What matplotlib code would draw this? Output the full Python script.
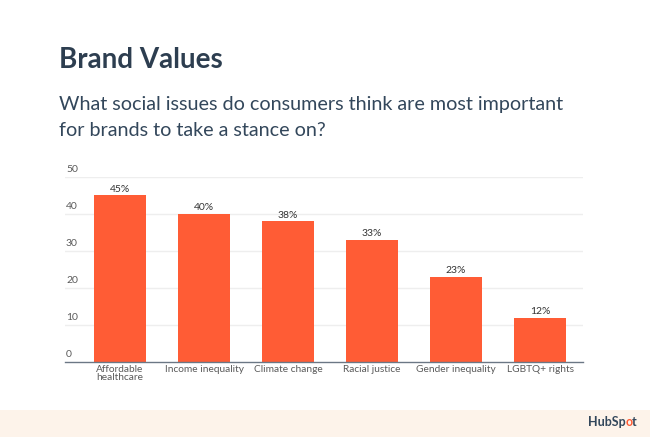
import matplotlib.pyplot as plt
from matplotlib.patches import Rectangle

categorias = ["Affordable\nhealthcare", "Income inequality", "Climate change",
              "Racial justice", "Gender inequality", "LGBTQ+ rights"]
valores = [45, 40, 38, 33, 23, 12]
ticks_y = [0, 10, 20, 30, 40, 50]

naranja = "#ff5c35"
azul = "#2d3e50"
gris = "#5a5a5a"

plt.rcParams['font.family'] = ['Lato', 'DejaVu Sans']

fig = plt.figure(figsize=(6.5, 4.37), dpi=100)
fig.patch.set_facecolor('white')

# franja inferior con el logo
fig.patches.append(Rectangle((0, 0), 1, 27 / 437, transform=fig.transFigure,
                             facecolor="#fdf3ea", edgecolor='none', zorder=0))

fig.text(59 / 650, 1 - 68 / 437, "Brand Values", fontsize=20, fontweight='bold',
         color=azul, va='baseline')
fig.text(59 / 650, 1 - 110 / 437, "What social issues do consumers think are most important",
         fontsize=14.2, color="#33475b", va='baseline')
fig.text(59 / 650, 1 - 136 / 437, "for brands to take a stance on?",
         fontsize=14.2, color="#33475b", va='baseline')

# logo
fig.text(626 / 650, 1 - 426 / 437, "HubSp", fontsize=9, fontweight='bold',
         color="#33475b", ha='right', va='baseline')
fig.text(626 / 650, 1 - 426 / 437, "o", fontsize=9, fontweight='bold',
         color=naranja, ha='left', va='baseline')
fig.text(632 / 650, 1 - 426 / 437, "t", fontsize=9, fontweight='bold',
         color="#33475b", ha='left', va='baseline')

ax = fig.add_axes([65 / 650, 1 - 362 / 437, 518 / 650, 185 / 437])
x = range(len(categorias))
barras = ax.bar(x, valores, width=0.62, color=naranja, zorder=2)

for xi, v in zip(x, valores):
    ax.text(xi, v + 0.5, f"{v}%", ha='center', va='bottom', fontsize=7.5, color="#333333")

ax.set_xlim(-0.655, 5.51)
ax.set_ylim(0, 50)
ax.set_xticks(list(x))
ax.set_xticklabels(categorias, fontsize=7.3, color=gris, linespacing=0.95)
ax.tick_params(axis='x', length=0, pad=2)
ax.set_yticks([])

for t in ticks_y:
    if t > 0:
        ax.axhline(t, color="#eeeeee", linewidth=1, zorder=1)
    ax.text(0.002, t + 0.9, str(t), transform=ax.get_yaxis_transform(),
            fontsize=7.5, color=gris, ha='left', va='bottom')

for lado in ['top', 'right', 'left']:
    ax.spines[lado].set_visible(False)
ax.spines['bottom'].set_color("#6b7785")
ax.spines['bottom'].set_linewidth(1)
ax.spines['bottom'].set_zorder(3)

plt.savefig('out.png', dpi=100)
